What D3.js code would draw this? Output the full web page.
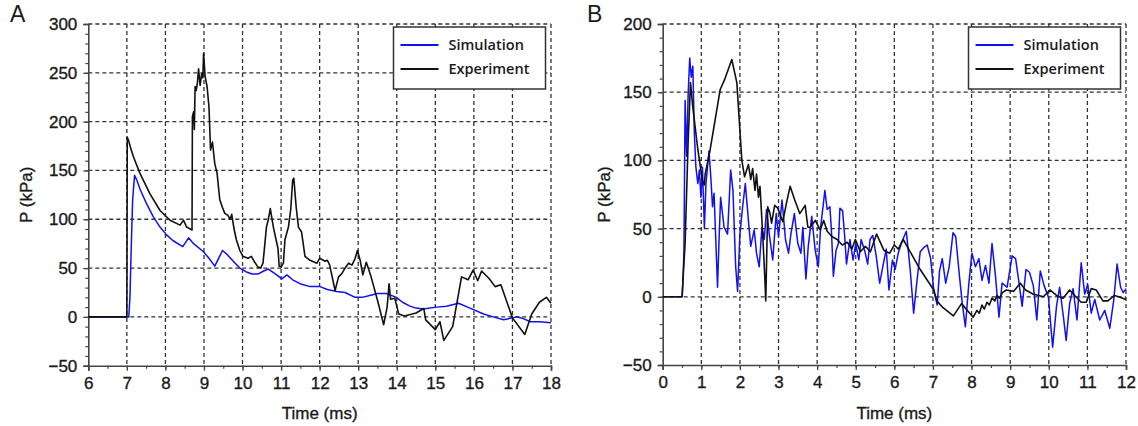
<!DOCTYPE html>
<html>
<head>
<meta charset="utf-8">
<script src="https://cdn.jsdelivr.net/npm/d3@7"></script>
<style>
  html, body { margin: 0; padding: 0; background: #fff; }
  svg { display: block; }
  text { font-family: "Liberation Sans", Arial, sans-serif; fill: #1a1a1a; }
  .heavy { stroke: #1a1a1a; stroke-width: 0.35px; }
  .legend text { font-family: "Open Sans", "Liberation Sans", sans-serif; font-weight: 600; }
</style>
</head>
<body>
<svg id="chart" width="1138" height="426"></svg>
<script>
// Panel A: pressure traces, time window 6–18 ms
const simA = [[6,0],[7.05,0],[7.08,20],[7.12,80],[7.15,120],[7.2,145],[7.26,140],[7.35,130],[7.51,116],[7.68,103],[7.86,92],[8.03,84],[8.2,78],[8.45,72],[8.6,81],[8.73,75],[8.98,67],[9.13,60],[9.28,52],[9.38,60],[9.48,68],[9.6,64],[9.76,57],[9.93,50],[10.1,46],[10.25,44],[10.41,44],[10.55,47],[10.67,49],[10.85,44],[11.02,39],[11.15,43],[11.3,38],[11.49,34],[11.75,31],[12.01,31],[12.2,28],[12.44,26],[12.66,25],[12.92,20],[13.1,20],[13.3,22],[13.5,24],[13.73,24],[13.99,20],[14.15,15],[14.34,11],[14.5,9],[14.68,8],[15.03,10],[15.29,11],[15.6,14],[15.9,9],[16.25,3],[16.5,0],[16.77,-3],[17.12,0],[17.3,-2],[17.46,-5],[17.7,-5],[18,-6]];

const expA = [[6,0],[7.0,0],[7.01,184],[7.05,180],[7.09,174],[7.17,164],[7.34,147],[7.6,126],[7.86,109],[8.12,99],[8.38,94],[8.47,99],[8.55,92],[8.69,89],[8.7,205],[8.73,210],[8.75,192],[8.77,236],[8.8,232],[8.83,240],[8.86,254],[8.9,237],[8.94,249],[8.97,245],[8.99,270],[9.03,246],[9.08,236],[9.13,215],[9.17,171],[9.22,179],[9.28,157],[9.34,147],[9.41,120],[9.48,112],[9.54,106],[9.62,104],[9.68,100],[9.72,105],[9.78,90],[9.84,79],[9.93,68],[10.01,62],[10.14,60],[10.23,62],[10.3,57],[10.4,51],[10.47,50],[10.53,55],[10.58,75],[10.62,92],[10.67,100],[10.72,111],[10.8,92],[10.87,79],[10.92,70],[10.95,52],[11.0,51],[11.06,55],[11.1,79],[11.19,92],[11.25,110],[11.3,140],[11.33,142],[11.39,113],[11.45,92],[11.53,87],[11.62,62],[11.75,58],[11.93,55],[12.0,60],[12.14,57],[12.2,58],[12.26,53],[12.4,27],[12.49,41],[12.57,44],[12.66,50],[12.75,55],[12.84,53],[12.92,60],[12.98,68],[13.05,58],[13.12,43],[13.21,56],[13.32,43],[13.5,17],[13.66,-8],[13.75,10],[13.8,34],[13.84,18],[13.95,19],[14.05,3],[14.2,1],[14.5,4],[14.7,8.6],[14.75,-3],[15.0,-13],[15.12,-5],[15.22,-24],[15.45,-10],[15.68,41],[15.85,38],[15.98,48],[16.1,37],[16.2,47],[16.4,39],[16.55,31],[16.7,33],[17.0,-1],[17.32,-18],[17.5,3],[17.7,15],[17.88,20],[18.0,14]];

// Panel B: pressure traces, time window 0–12 ms
const simB = [[0,0],[0.5,0],[0.51,2],[0.55,32],[0.58,144],[0.62,103],[0.66,149],[0.7,175],[0.74,161],[0.78,169],[0.82,120],[0.86,95],[0.91,83],[0.95,93],[0.99,73],[1.03,95],[1.08,50],[1.12,83],[1.2,107],[1.25,86],[1.29,66],[1.33,76],[1.42,7],[1.46,42],[1.5,73],[1.59,51],[1.68,46],[1.76,93],[1.82,78],[1.89,22],[1.94,4],[2.0,46],[2.07,66],[2.14,83],[2.22,56],[2.28,37],[2.37,49],[2.43,32],[2.5,22],[2.57,51],[2.63,42],[2.69,64],[2.76,46],[2.85,27],[2.94,61],[3.0,44],[3.09,71],[3.18,42],[3.26,32],[3.32,46],[3.41,61],[3.5,39],[3.58,32],[3.63,51],[3.71,13],[3.77,37],[3.86,59],[3.95,34],[4.03,22],[4.09,51],[4.16,68],[4.2,78],[4.26,64],[4.33,66],[4.37,49],[4.42,15],[4.49,34],[4.55,39],[4.59,65],[4.66,63],[4.72,42],[4.76,24],[4.85,42],[4.93,27],[5.0,39],[5.08,27],[5.14,42],[5.23,34],[5.31,24],[5.37,42],[5.44,45],[5.53,30],[5.62,10],[5.7,22],[5.79,35],[5.86,5],[5.95,27],[6.02,20],[6.1,32],[6.19,40],[6.31,48],[6.41,20],[6.5,-12],[6.58,10],[6.67,33],[6.76,36],[6.85,38],[6.94,28],[7.02,5],[7.11,-6],[7.17,19],[7.24,28],[7.33,10],[7.42,22],[7.52,47],[7.59,44],[7.68,17],[7.76,-5],[7.84,-22],[7.93,10],[8.01,32],[8.1,22],[8.19,28],[8.27,12],[8.36,23],[8.45,10],[8.53,39],[8.62,15],[8.71,-15],[8.79,10],[8.92,7],[9.05,30],[9.14,28],[9.22,12],[9.31,-7],[9.41,20],[9.5,18],[9.6,8],[9.69,-17],[9.78,19],[9.88,8],[9.99,0],[10.1,-37],[10.2,-7],[10.28,7],[10.38,-15],[10.45,-32],[10.54,-5],[10.63,6],[10.73,-17],[10.84,25],[10.93,2],[11.01,9],[11.1,-12],[11.19,-2],[11.32,-17],[11.45,-10],[11.58,-23],[11.68,-3],[11.77,24],[11.86,7],[11.93,3],[12.0,6]];

const expB = [[0,0],[0.5,0],[0.58,39],[0.66,115],[0.72,157],[0.78,139],[0.91,108],[1.03,85],[1.08,82],[1.1,90],[1.23,108],[1.49,152],[1.6,159],[1.79,174],[1.92,157],[2.05,100],[2.12,88],[2.22,97],[2.28,86],[2.33,94],[2.39,78],[2.43,90],[2.48,73],[2.52,81],[2.58,51],[2.64,17],[2.67,-3],[2.72,66],[2.78,61],[2.82,54],[2.9,67],[2.98,65],[3.11,55],[3.2,68],[3.3,81],[3.42,71],[3.55,61],[3.69,67],[3.76,51],[3.82,51],[3.95,56],[4.08,49],[4.17,56],[4.26,48],[4.39,44],[4.52,42],[4.65,38],[4.78,40],[4.9,35],[4.99,42],[5.12,33],[5.25,37],[5.38,33],[5.54,46],[5.73,34],[5.88,32],[6.0,38],[6.1,35],[6.23,42],[6.67,20],[7.02,5],[7.1,-3],[7.26,-8],[7.53,-14],[7.74,-5],[8.04,-15],[8.14,-10],[8.2,-12],[8.27,-6],[8.33,-9],[8.4,-4],[8.46,-6],[8.53,-1],[8.6,-3],[8.66,1],[8.72,-1],[8.8,3],[8.9,5],[9.09,4],[9.26,10],[9.4,5],[9.59,2],[9.86,0],[10.03,5],[10.2,1],[10.37,-1],[10.54,5],[10.7,0],[10.84,-4],[10.97,-4],[11.1,6],[11.23,5],[11.4,-3],[11.53,-3],[11.7,1],[11.81,0],[12.0,-2]];

// Axis tick values
const ticksXA = [6,7,8,9,10,11,12,13,14,15,16,17,18];
const ticksYA = [-50,0,50,100,150,200,250,300];
const ticksXB = [0,1,2,3,4,5,6,7,8,9,10,11,12];
const ticksYB = [-50,0,50,100,150,200];

const seriesNames = ["Simulation", "Experiment"];
const seriesColors = ["#1010f0", "#111111"];

const svg = d3.select("#chart");

function drawPanel(cfg) {
  const g = svg.append("g");
  const x = d3.scaleLinear().domain(d3.extent(cfg.ticksX)).range([cfg.left, cfg.right]);
  const y = d3.scaleLinear().domain(d3.extent(cfg.ticksY)).range([cfg.bottom, cfg.top]);

  // dashed grid at every major tick (includes top and right edges)
  const grid = g.append("g").attr("stroke", "#333").attr("stroke-width", 1.3)
    .attr("stroke-dasharray", "4,3").attr("fill", "none");
  grid.selectAll("line.gx").data(cfg.ticksX.slice(1)).join("line")
    .attr("x1", d => x(d)).attr("x2", d => x(d))
    .attr("y1", cfg.top).attr("y2", cfg.bottom);
  grid.selectAll("line.gy").data(cfg.ticksY.slice(1)).join("line")
    .attr("class", "gy")
    .attr("x1", cfg.left).attr("x2", cfg.right)
    .attr("y1", d => y(d)).attr("y2", d => y(d));

  // minor ticks
  const xMinor = d3.range(x.domain()[0], x.domain()[1] + 0.001, 0.5);
  const yMinor = d3.range(y.domain()[0], y.domain()[1] + 0.001, 10);

  const xAxis = d3.axisBottom(x).tickValues(cfg.ticksX).tickSize(5).tickPadding(6).tickFormat(d3.format("d"));
  const yAxis = d3.axisLeft(y).tickValues(cfg.ticksY).tickSize(5).tickPadding(6).tickFormat(d3.format("d"));

  g.append("g").attr("transform", `translate(0,${cfg.bottom})`)
    .call(d3.axisBottom(x).tickValues(xMinor).tickSize(3).tickFormat(""))
    .call(s => s.selectAll("path").remove())
    .call(s => s.selectAll("line").attr("stroke", "#444").attr("stroke-width", 1.2));
  g.append("g").attr("transform", `translate(${cfg.left},0)`)
    .call(d3.axisLeft(y).tickValues(yMinor).tickSize(3).tickFormat(""))
    .call(s => s.selectAll("path").remove())
    .call(s => s.selectAll("line").attr("stroke", "#444").attr("stroke-width", 1.2));

  const gx = g.append("g").attr("transform", `translate(0,${cfg.bottom})`).call(xAxis);
  const gy = g.append("g").attr("transform", `translate(${cfg.left},0)`).call(yAxis);
  [gx, gy].forEach(a => {
    a.select("path.domain").attr("stroke", "#444").attr("stroke-width", 1.6);
    a.selectAll(".tick line").attr("stroke", "#444").attr("stroke-width", 1.3);
    a.selectAll(".tick text").attr("font-size", 17).attr("fill", "#1a1a1a")
      .attr("class", "heavy")
      .attr("font-family", "Liberation Sans, Arial, sans-serif");
  });

  // traces
  const line = d3.line().x(d => x(d[0])).y(d => y(d[1]));
  g.append("path").datum(cfg.sim).attr("d", line)
    .attr("fill", "none").attr("stroke", seriesColors[0]).attr("stroke-width", 1.5)
    .attr("stroke-linejoin", "round");
  g.append("path").datum(cfg.exp).attr("d", line)
    .attr("fill", "none").attr("stroke", seriesColors[1]).attr("stroke-width", 1.6)
    .attr("stroke-linejoin", "round");

  // axis titles and panel letter
  g.append("text").attr("x", (cfg.left + cfg.right) / 2).attr("y", 419)
    .attr("class", "heavy")
    .attr("text-anchor", "middle").attr("font-size", 17).text("Time (ms)");
  g.append("text")
    .attr("class", "heavy")
    .attr("transform", `translate(${cfg.yTitleX},${(cfg.top + cfg.bottom) / 2}) rotate(-90)`)
    .attr("text-anchor", "middle").attr("font-size", 17).text("P (kPa)");
  g.append("text").attr("x", cfg.letterX).attr("y", 22)
    .attr("font-size", 23).text(cfg.letter);

  // legend
  const lg = g.append("g").attr("class", "legend");
  lg.append("rect").attr("x", cfg.legX).attr("y", 27).attr("width", 152).attr("height", 62)
    .attr("fill", "#fff").attr("stroke", "#333").attr("stroke-width", 1.5);
  seriesNames.forEach((name, i) => {
    const yy = 45 + i * 24;
    lg.append("line").attr("x1", cfg.legX + 7).attr("x2", cfg.legX + 45)
      .attr("y1", yy).attr("y2", yy)
      .attr("stroke", seriesColors[i]).attr("stroke-width", 2);
    lg.append("text").attr("x", cfg.legX + 55).attr("y", yy + 5)
      .attr("font-size", 14.5).text(name);
  });
}

drawPanel({ sim: simA, exp: expA, ticksX: ticksXA, ticksY: ticksYA,
  left: 88.3, right: 551, top: 24, bottom: 365.7,
  yTitleX: 32, letter: "A", letterX: 10, legX: 393.5 });
drawPanel({ sim: simB, exp: expB, ticksX: ticksXB, ticksY: ticksYB,
  left: 662.7, right: 1126, top: 24, bottom: 365,
  yTitleX: 610, letter: "B", letterX: 587, legX: 968.5 });
</script>
</body>
</html>
